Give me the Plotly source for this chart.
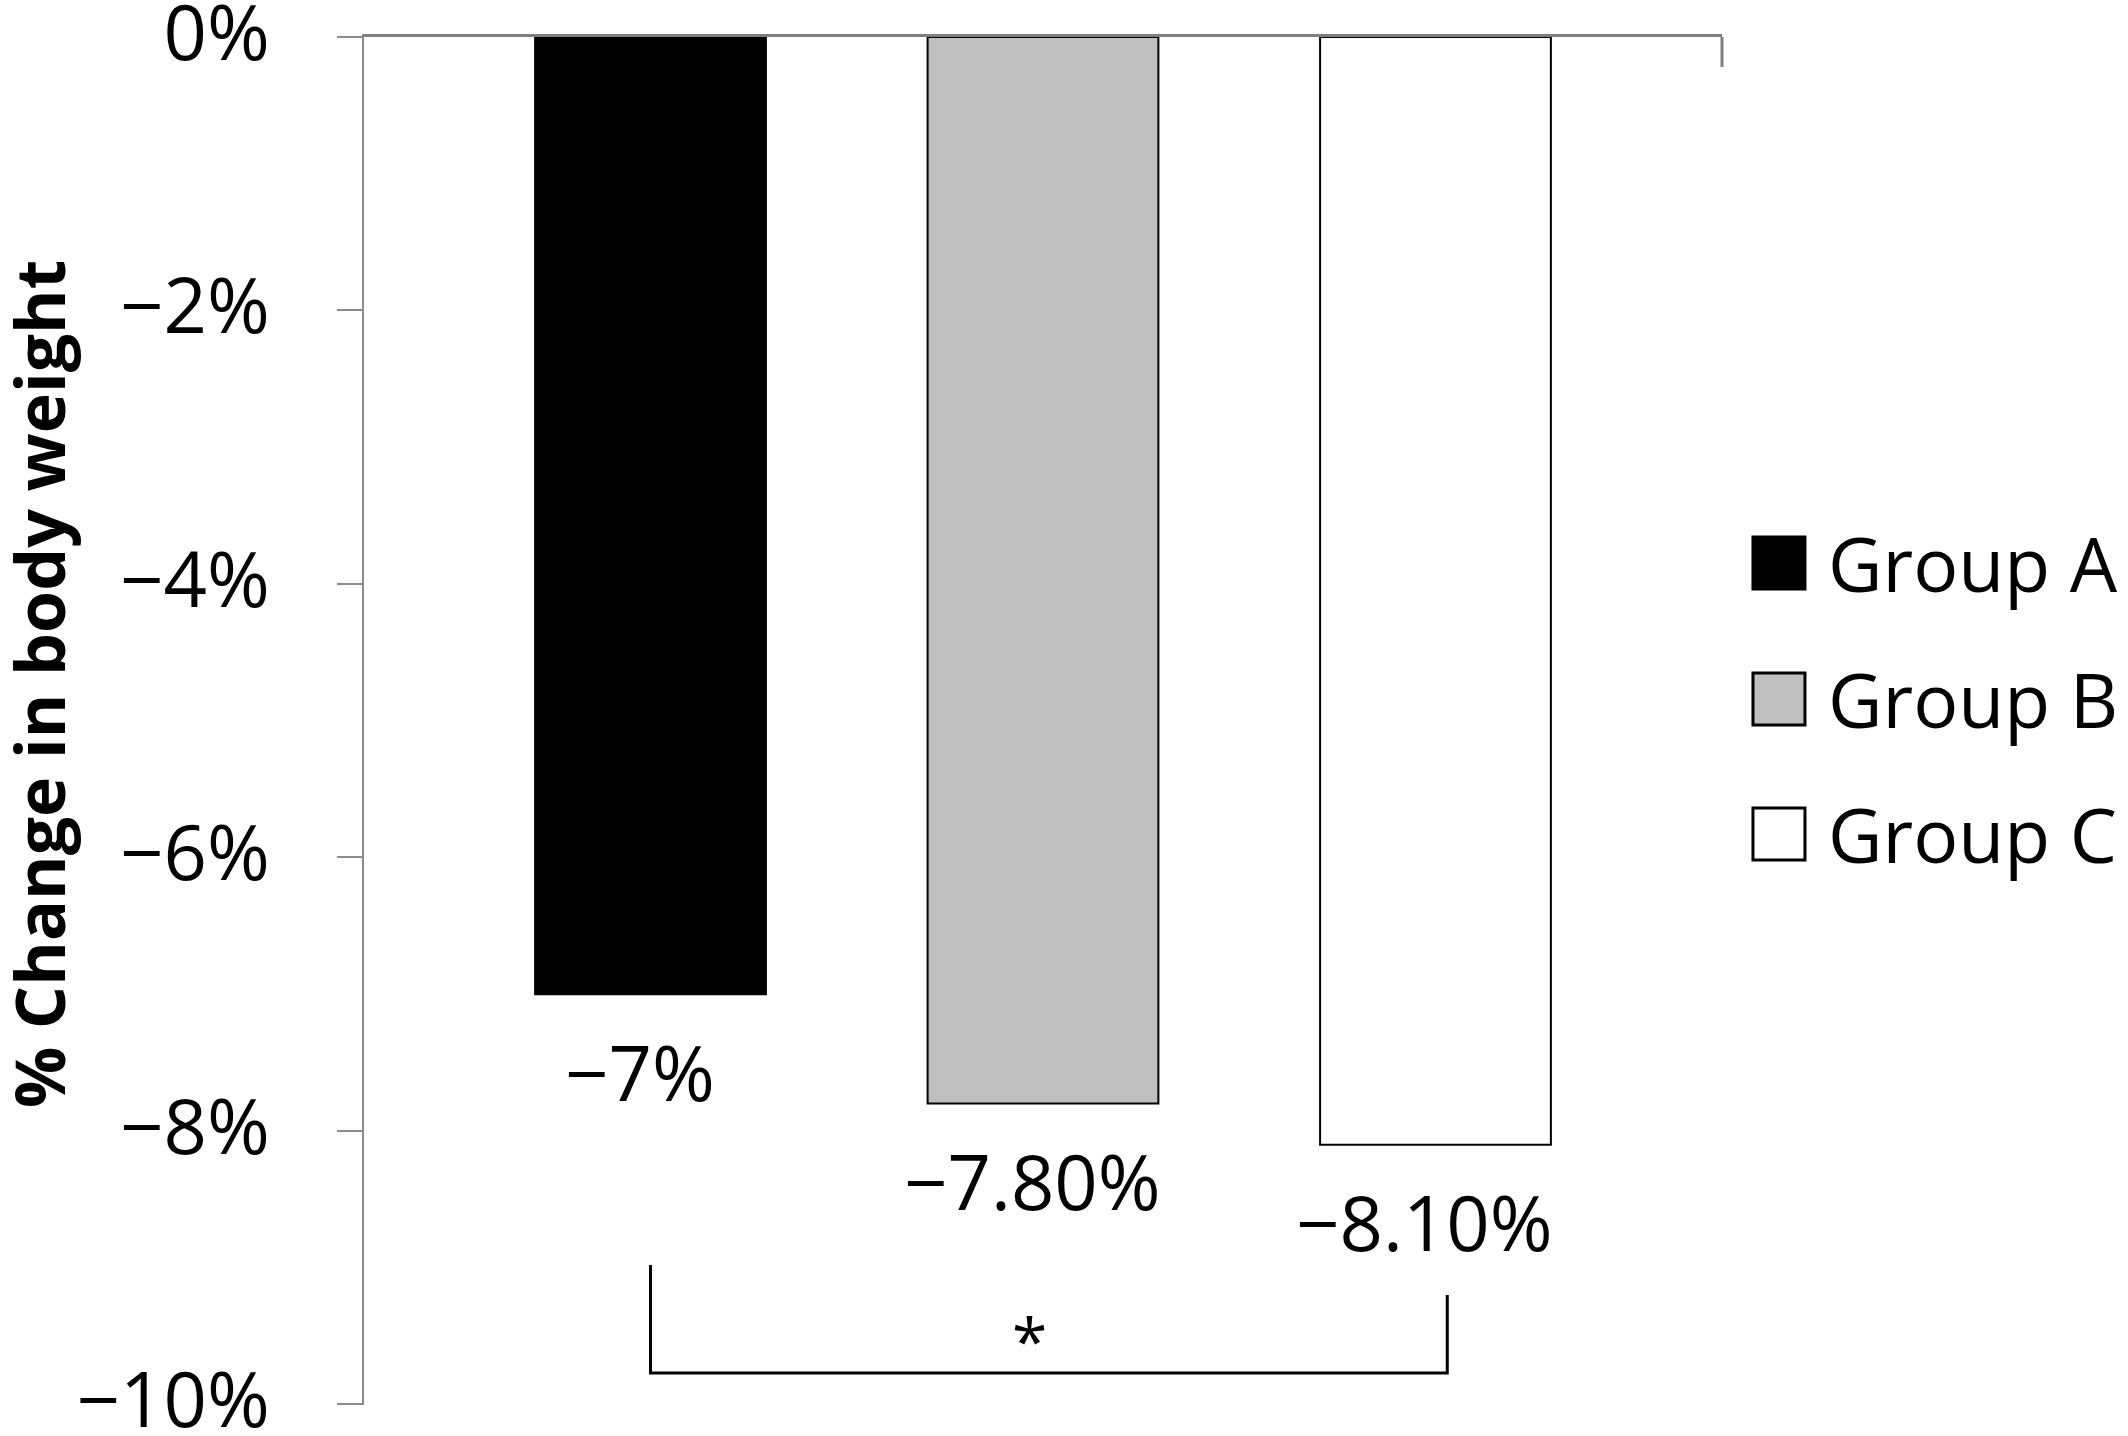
import plotly.graph_objects as go

# ---- data ----
groups = ["Group A", "Group B", "Group C"]
values = [-7.0, -7.8, -8.1]
value_labels = ["−7%", "−7.80%", "−8.10%"]
fill_colors = ["#000000", "#bfbfbf", "#ffffff"]
y_tickvals = [0, -2, -4, -6, -8, -10]
y_ticktext = ["0%", "−2%", "−4%", "−6%", "−8%", "−10%"]
bracket_x = [0.0, 2.03]
bracket_top = [-8.98, -9.20]
bracket_bottom = -9.77
sig_text = "*"

FONT = "Open Sans"
x_range = [-0.73, 2.73]
y_range = [-10.004, 0.0]

W, H = 2128, 1436
M_L, M_R, M_T, M_B = 364, 406, 37, 31
PH = H - M_T - M_B

fig = go.Figure()
fig.add_trace(go.Bar(
    x=list(range(len(groups))), y=values, width=0.588,
    marker=dict(color=fill_colors, line=dict(color="#000000", width=2)),
    showlegend=False, hoverinfo="skip",
))

# value labels below bars
for i, (v, t) in enumerate(zip(values, value_labels)):
    fig.add_annotation(x=i, y=v, xref="x", yref="y", text=t, showarrow=False,
                       xanchor="center", yanchor="middle", yshift=-77, xshift=-11,
                       font=dict(family=FONT, size=76, color="#000000"))

# significance bracket
path = (f"M {bracket_x[0]},{bracket_top[0]} L {bracket_x[0]},{bracket_bottom} "
        f"L {bracket_x[1]},{bracket_bottom} L {bracket_x[1]},{bracket_top[1]}")
fig.add_shape(type="path", path=path, xref="x", yref="y",
              line=dict(color="#000000", width=3))
fig.add_annotation(x=(bracket_x[0] + bracket_x[1]) / 2 - 0.05, y=-9.47, xref="x", yref="y",
                   text=sig_text, showarrow=False, yshift=-9,
                   font=dict(family=FONT, size=64, color="#000000"))

# right-end tick of the category axis (pointing down)
fig.add_shape(type="line", xref="paper", yref="paper", x0=1, x1=1, y0=1, y1=1 - 30 / PH,
              line=dict(color="#7f7f7f", width=3))

# manual legend
leg_y = [0.6155, 0.516, 0.4174]
half = 26 / PH
for g, c, yy in zip(groups, fill_colors, leg_y):
    fig.add_shape(type="rect", xref="paper", yref="paper",
                  x0=1.0228, x1=1.0611, y0=yy - half, y1=yy + half,
                  fillcolor=c, line=dict(color="#000000", width=3))
    fig.add_annotation(x=1.0795, y=yy, xref="paper", yref="paper", text=g,
                       showarrow=False, xanchor="left", yanchor="middle", xshift=-4,
                       font=dict(family=FONT, size=75, color="#000000"))

# y-axis title
fig.add_annotation(x=(38 - M_L) / (W - M_L - M_R), y=0.527, xref="paper", yref="paper",
                   text="<b>% Change in body weight</b>", textangle=-90,
                   showarrow=False, xanchor="center", yanchor="middle",
                   font=dict(family=FONT, size=68, color="#000000"))

fig.update_layout(
    width=W, height=H,
    margin=dict(l=M_L, r=M_R, t=M_T, b=M_B, autoexpand=False),
    paper_bgcolor="white", plot_bgcolor="white",
    showlegend=False,
    xaxis=dict(range=x_range, side="top", showline=True, linecolor="#7f7f7f", linewidth=3,
               ticks="", showticklabels=False, showgrid=False, zeroline=False,
               fixedrange=True, automargin=False),
    yaxis=dict(range=y_range, showline=True, linecolor="#8c8c8c", linewidth=2,
               ticks="outside", ticklen=25, tickwidth=2, tickcolor="#8c8c8c",
               tickvals=y_tickvals, ticktext=y_ticktext, ticklabelstandoff=52,
               ticklabelshift=-4, ticklabeloverflow="allow", automargin=False,
               tickfont=dict(family=FONT, size=76, color="#000000"),
               showgrid=False, zeroline=False, fixedrange=True),
)

fig.write_html("out.html", config={"displayModeBar": False},
               post_script="document.body.style.margin='0';")
